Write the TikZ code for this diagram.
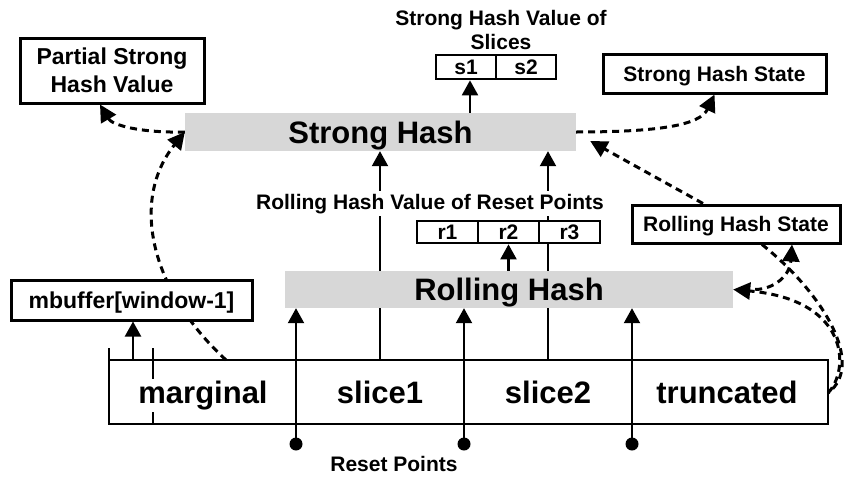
\documentclass[tikz,border=0pt]{standalone}
\usepackage{fontspec}
\setmainfont{Liberation Sans}
\usetikzlibrary{arrows.meta,backgrounds}
\definecolor{barg}{RGB}{215,215,215}
\begin{document}
\begin{tikzpicture}[x=1pt,y=-1pt,
  lbl/.style={font=\fontsize{21}{24}\selectfont\bfseries, inner sep=0pt},
  box/.style={draw, line width=3pt, fill=white, inner sep=0pt, text height=15pt, text depth=0pt, align=center, font=\fontsize{21}{24}\selectfont\bfseries},
  mbox/.style={box, font=\fontsize{23}{28}\selectfont\bfseries, text height=16.5pt},
  cell/.style={box, line width=2.7pt, minimum height=24pt},
  bar/.style={fill=barg, inner sep=0pt, text height=22pt, text depth=0pt, font=\fontsize{31}{36}\selectfont\bfseries},
  arr/.style={line width=2.2pt, -{Triangle[length=15pt,width=16pt]}},
  dasharr/.style={line width=3pt, dash pattern=on 7pt off 5pt, -{Triangle[length=17pt,width=17pt]}},
  dashln/.style={line width=3pt, dash pattern=on 7pt off 5pt},
  dot/.style={circle, fill, inner sep=0pt, minimum size=13pt},
  word/.style={fill=white, inner sep=2pt, font=\fontsize{31}{36}\selectfont\bfseries, anchor=base}
]
\useasboundingbox (0,0) rectangle (844,479);

% bars
\node[bar, minimum width=391pt, minimum height=38pt] (sh) at (380.5,132) {Strong Hash};
\node[bar, minimum width=448pt, minimum height=37pt] (rh) at (509,289.5) {Rolling Hash};

% boxes
\node[mbox, text height=44.5pt, minimum width=184pt, minimum height=65pt] (psv) at (112,70.5) {Partial Strong\\Hash Value};
\node[box, minimum width=223pt, minimum height=39pt] (shs) at (714.5,73.5) {Strong Hash State};
\node[box, minimum width=208pt, minimum height=38pt] (rhs) at (736,224) {Rolling Hash State};
\node[mbox, minimum width=241pt, minimum height=40pt] (mb) at (131.5,300) {mbuffer[window-1]};

% slices value
\node[lbl, align=center, text height=39pt, text depth=0pt] (shv) at (501,29.5) {Strong Hash Value of\\Slices};
\node[cell, minimum width=60pt] (s1) at (466,67) {s1};
\node[cell, minimum width=60pt] (s2) at (526,67) {s2};

% reset point values
\node[lbl, fill=white, inner sep=3pt, anchor=base] (rhv) at (430,209) {Rolling Hash Value of Reset Points};
\node[cell, minimum width=61pt, minimum height=22pt] (r1) at (447.5,232) {r1};
\node[cell, minimum width=61pt, minimum height=22pt] (r2) at (508.5,232) {r2};
\node[cell, minimum width=61pt, minimum height=22pt] (r3) at (569.5,232) {r3};

% slice buffer
\draw[line width=2pt] (109,348) -- (109,424) -- (828,424) -- (828,360) -- (109,360);
\draw[line width=2pt] (153,348) -- (153,424);
\node[word] (mg) at (203,403) {marginal};
\node[word] (sl1) at (380,403) {slice1};
\node[word] (sl2) at (548,403) {slice2};
\node[word] (tc) at (727,403) {truncated};

% reset points
\node[dot] (d1) at (296,444) {};
\node[dot] (d2) at (464,444) {};
\node[dot] (d3) at (632,444) {};
\node[lbl, anchor=base] (rp) at (394,471) {Reset Points};

\coordinate (c1) at (380,360);
\coordinate (c2) at (548,360);
\coordinate (c3) at (470,113);
\coordinate (c4) at (133,360);
\coordinate (mt) at (226,360);
\coordinate (tr) at (828,393);

\begin{pgfonlayer}{background}
\draw[arr] (d1.center) -- (d1.center |- rh.south);
\draw[arr] (d2.center) -- (d2.center |- rh.south);
\draw[arr] (d3.center) -- (d3.center |- rh.south);
\draw[arr] (c1) -- (c1 |- sh.south);
\draw[arr] (c2) -- (c2 |- sh.south);
\draw[arr] (c3) -- (c3 |- s1.south);
\draw[arr] (r2.south |- rh.north) -- (r2.south);
\draw[arr] (c4) -- (c4 |- mb.south);

\draw[dasharr] (mt) .. controls (150,290) and (130,200) .. (sh.west);
\draw[dasharr] (sh.west) .. controls (140,133) and (112,125) .. ([xshift=-12pt]psv.south);
\draw[dasharr] (sh.east) .. controls (660,132) and (700,125) .. (shs.south);
\draw[dasharr] ([xshift=-33pt]rhs.north) -- ([xshift=14pt,yshift=-9pt]sh.east);
\draw[dasharr] (tr) .. controls (850,370) and (850,300) .. (rh.east);
\draw[dashln] ([xshift=26pt]rhs.south) .. controls (825,295) and (865,365) .. (tr);
\draw[dasharr] ([xshift=22pt]rh.east) .. controls (775,289) and (790,275) .. ([xshift=56pt]rhs.south);
\end{pgfonlayer}
\end{tikzpicture}
\end{document}
